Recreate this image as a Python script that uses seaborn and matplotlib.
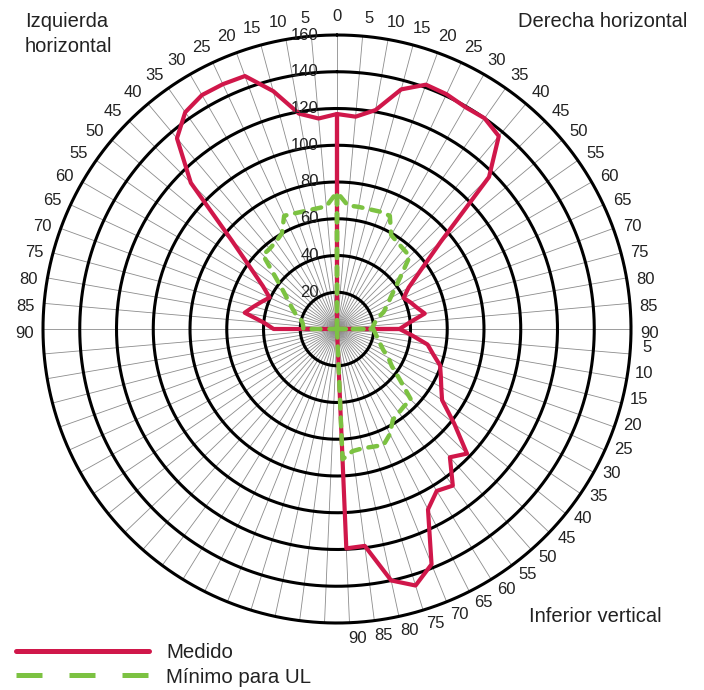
import numpy as np
import pandas as pd
import matplotlib
matplotlib.use('Agg')
import matplotlib.pyplot as plt
from matplotlib.lines import Line2D
import seaborn as sns

# angulos de medicion (grados), iguales para las tres zonas
angulos = list(range(0, 95, 5))

# Medido
medido_izq = [117, 115, 119, 134, 146.5, 147, 147, 144, 135.5, 112.5,
              74.5, 57, 46.5, 40.5, 43.5, 47, 51, 40, 34.5]
medido_der = [117, 116, 121, 135, 141.5, 141, 139.5, 140, 137, 117,
              73.5, 55.5, 45, 40, 42.5, 45, 48.5, 39.5, 34]
medido_inf = [34, 41, 50, 54, 59.5, 62, 65, 69, 82, 98,
              93, 106, 103.5, 110, 138, 146, 140, 119, 119.5]

# Minimo para UL
ul_izq = [74.5, 67, 66.5, 66.5, 67, 68, 60, 58, 57, 57,
          43.5, 35.5, 30.5, 27, 24, 20.5, 19, 18.5, 18.3]
ul_der = [74.5, 67.5, 67.5, 67.5, 68, 68, 59, 57.5, 56.5, 56,
          45.7, 38.5, 33.5, 30, 27, 23, 21, 19.8, 19]
ul_inf = [19.7, 20.6, 21.8, 23.3, 25.1, 27.6, 32, 36, 44, 56,
          55.6, 56.6, 58, 64, 68, 67, 66.4, 67, 71]

anillos = [20, 40, 60, 80, 100, 120, 140, 160]

ROJO = '#d0174a'
VERDE = '#7cc242'
TEXTO = '#222222'
PASO_INF = 180 / 37   # la mitad inferior tiene 37 divisiones

sns.set_style('white')
plt.rcParams['font.family'] = ['Liberation Sans', 'DejaVu Sans']


def theta_zona(zona):
    a = np.array(angulos, dtype=float)
    if zona == 'izq':
        return -a
    if zona == 'der':
        return a
    return 90 + a / 5 * PASO_INF


def tramo(zona, valores):
    # cada zona sale del centro y vuelve al centro
    th = theta_zona(zona)
    th = np.radians(np.concatenate([[th[0]], th, [th[-1]]]))
    r = np.concatenate([[0], valores, [0]])
    return pd.DataFrame({'theta': th, 'r': r})


fig = plt.figure(figsize=(7.04, 6.9), dpi=100)
ax = fig.add_axes([43 / 704, 67 / 690, 588 / 704, 588 / 690], projection='polar')
ax.set_theta_zero_location('N')
ax.set_theta_direction(-1)

# radios grises
radios = list(np.arange(-90, 91, 5)) + [90 + k * PASO_INF for k in range(1, 37)]
for t in radios:
    ax.plot([np.radians(t)] * 2, [0, 160], color='#8c8c8c', lw=0.6, zorder=1)

# anillos negros
circ = np.linspace(0, 2 * np.pi, 500)
for r in anillos:
    ax.plot(circ, np.full_like(circ, r), color='black', lw=2.2, zorder=2, clip_on=False)

for zona, vals in [('izq', medido_izq), ('der', medido_der), ('inf', medido_inf)]:
    sns.lineplot(data=tramo(zona, vals), x='theta', y='r', ax=ax, sort=False,
                 estimator=None, color=ROJO, linewidth=3, zorder=4)

for zona, vals in [('izq', ul_izq), ('der', ul_der), ('inf', ul_inf)]:
    sns.lineplot(data=tramo(zona, vals), x='theta', y='r', ax=ax, sort=False,
                 estimator=None, color=VERDE, linewidth=3.2,
                 linestyle=(0, (2.0, 2.0)), dash_capstyle='round', zorder=5)

ax.set_ylim(0, 160)
ax.set_xticks([])
ax.set_yticks([])
ax.grid(False)
ax.spines['polar'].set_visible(False)
ax.set_xlabel('')
ax.set_ylabel('')

# etiquetas de los anillos
for r in anillos:
    ax.annotate(str(r), xy=(0, r), xytext=(-18, 0), textcoords='offset pixels',
                ha='right', va='center', fontsize=12, color=TEXTO, zorder=6)

# etiquetas de angulo
for h in angulos:
    off = 0.8 if h else 0
    ax.text(np.radians(h + off), 170, str(h), ha='center', va='center',
            fontsize=12, color=TEXTO)
    if h:
        ax.text(np.radians(-(h + off)), 170, str(h), ha='center', va='center',
                fontsize=12, color=TEXTO)
for t, v in zip(theta_zona('inf')[1:], angulos[1:]):
    ax.text(np.radians(t - 1.4), 169, str(v), ha='center', va='center',
            fontsize=12, color=TEXTO)

# titulos de zona
fig.text(25 / 704, 1 - 27 / 690, 'Izquierda', fontsize=14.5, color=TEXTO, va='baseline')
fig.text(25 / 704, 1 - 52 / 690, 'horizontal', fontsize=14.5, color=TEXTO, va='baseline')
fig.text(687 / 704, 1 - 27 / 690, 'Derecha horizontal', fontsize=14.5, color=TEXTO,
         ha='right', va='baseline')
fig.text(529 / 704, 1 - 622 / 690, 'Inferior vertical', fontsize=14.5, color=TEXTO,
         va='baseline')

handles = [Line2D([], [], color=ROJO, lw=3.6),
           Line2D([], [], color=VERDE, lw=3.6, dashes=(5.2, 5.4))]
fig.legend(handles, ['Medido', 'Mínimo para UL'], loc='center left',
           bbox_to_anchor=(16 / 704, 1 - 665 / 690), frameon=False, fontsize=14.7,
           handlelength=6.5, handletextpad=0.85, borderpad=0, borderaxespad=0,
           labelspacing=0.25, labelcolor=TEXTO)

fig.savefig('out.png', dpi=100, facecolor='white')
